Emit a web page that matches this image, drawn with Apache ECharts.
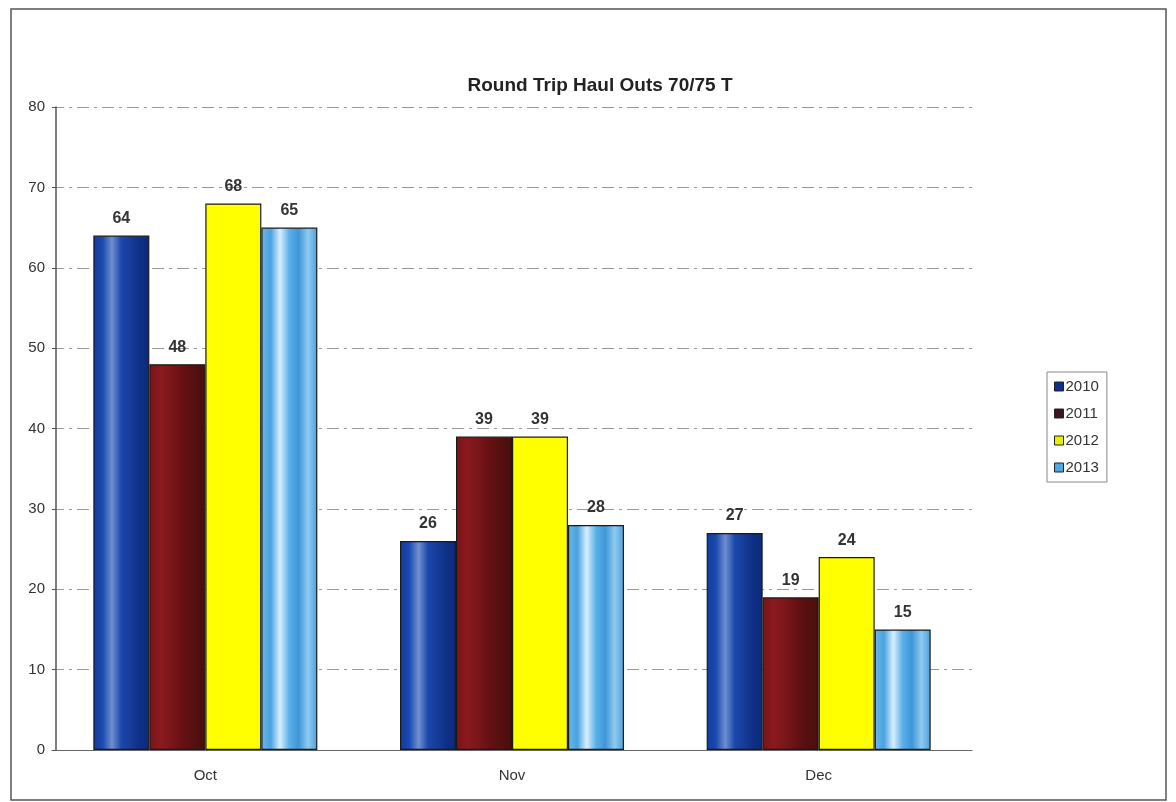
<!DOCTYPE html>
<html><head><meta charset="utf-8">
<script src="https://cdn.jsdelivr.net/npm/echarts@6/dist/echarts.min.js"></script>
<style>html,body{margin:0;padding:0;background:#fff}#c{width:1176px;height:802px}</style>
</head><body><div id="c"></div>
<script>
const categories = ['Oct', 'Nov', 'Dec'];
const seriesNames = ['2010', '2011', '2012', '2013'];
const v2010 = [64, 26, 27];
const v2011 = [48, 39, 19];
const v2012 = [68, 39, 24];
const v2013 = [65, 28, 15];
const yTicks = [0, 10, 20, 30, 40, 50, 60, 70, 80];

const values = [v2010, v2011, v2012, v2013];
function grad(stops) {
  return new echarts.graphic.LinearGradient(0, 0, 1, 0, stops.map((c, i) => ({offset: i / (stops.length - 1), color: c})));
}
const fills = [
  grad(['#123a9c', '#1a4ab0', '#6f8ed0', '#1a48ac', '#163c98', '#0e2f86', '#0b2a7a']),
  grad(['#7a1418', '#8a1a1e', '#7a1619', '#661014', '#55100f', '#4a0e0e']),
  '#ffff00',
  grad(['#6ab8ea', '#4aa2e0', '#d8efff', '#5ab0e8', '#3f96d8', '#8fcaf0', '#4aa0dc'])
];
const legendColors = ['#0c2f90', '#3a1420', '#e8f000', '#4aa8e4'];
const chart = echarts.init(document.getElementById('c'), null, {renderer: 'canvas'});
chart.setOption({
  animation: false,
  backgroundColor: '#fff',
  textStyle: {fontFamily: 'Liberation Sans, Arial, sans-serif'},
  title: {
    text: 'Round Trip Haul Outs 70/75 T', left: 595, top: 71, textAlign: 'center',
    textStyle: {fontSize: 19, fontWeight: 'bold', color: '#222'}
  },
  graphic: [{type: 'rect', shape: {x: 11, y: 9, width: 1155, height: 791}, style: {fill: 'none', stroke: '#555', lineWidth: 1.5}, silent: true}],
  legend: {
    orient: 'vertical', left: 1047, top: 372,
    data: seriesNames.map((n, i) => ({name: n, itemStyle: {color: legendColors[i], borderColor: '#222', borderWidth: 1}})),
    itemWidth: 9, itemHeight: 9, itemGap: 12,
    borderColor: '#888', borderWidth: 1, padding: [7, 8, 7, 7],
    textStyle: {fontSize: 15, color: '#333', padding: [0, 0, 0, -3]},
    icon: 'rect'
  },
  grid: {left: 52, right: 1176 - 972, top: 107, bottom: 802 - 750, containLabel: false},
  xAxis: {
    type: 'category', data: categories,
    axisLine: {lineStyle: {color: '#666', width: 1}},
    axisTick: {show: false},
    axisLabel: {fontSize: 15, color: '#333', margin: 18},
    splitLine: {show: false}
  },
  yAxis: {
    type: 'value', min: 0, max: 80, interval: 10, offset: -4,
    axisLine: {show: true, lineStyle: {color: '#555', width: 1.5}},
    axisTick: {show: true, length: 4, inside: false, lineStyle: {color: '#555'}},
    axisLabel: {fontSize: 15, color: '#333', margin: 11, formatter: v => yTicks.includes(v) ? String(v) : ''},
    splitLine: {show: true, lineStyle: {color: '#999', type: [12, 5, 3, 5], width: 1}}
  },
  series: seriesNames.map((n, i) => ({
    name: n, type: 'bar', data: values[i],
    barWidth: 56, barGap: '0%',
    itemStyle: {color: fills[i], borderColor: '#1a1a1a', borderWidth: 1.2},
    label: {show: true, position: 'top', distance: 9, fontSize: 16, fontWeight: 'bold', color: '#333'}
  }))
});
</script></body></html>
